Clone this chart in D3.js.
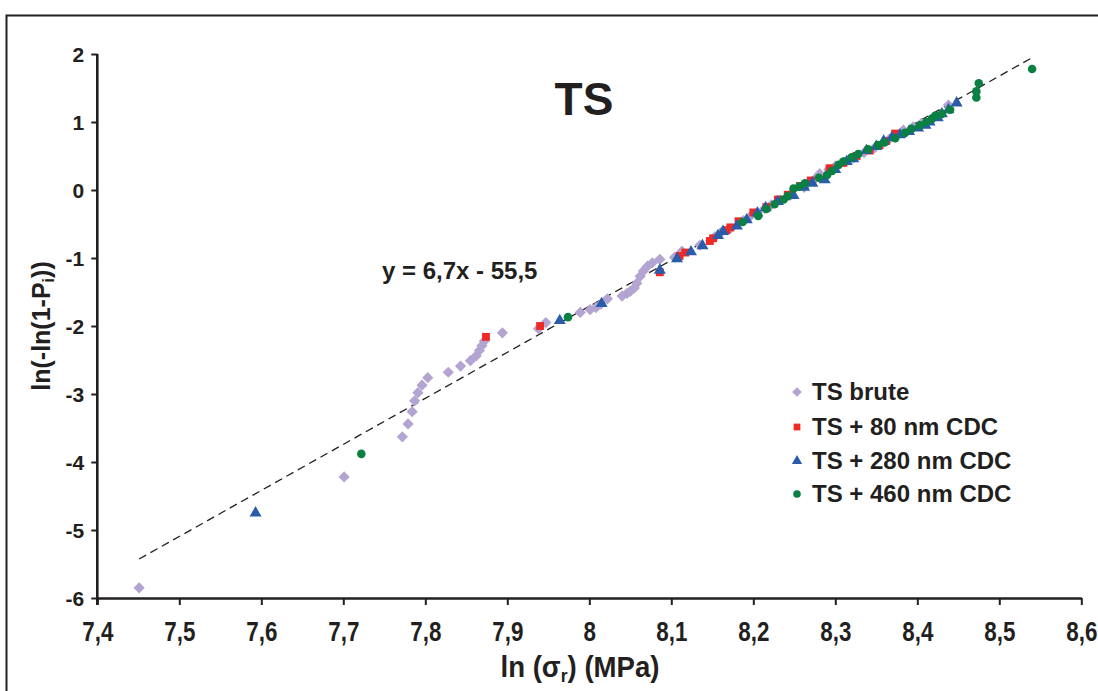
<!DOCTYPE html>
<html>
<head>
<meta charset="utf-8">
<script src="https://cdn.jsdelivr.net/npm/d3@7"></script>
<style>
  html, body { margin: 0; padding: 0; background: #fff; }
  svg { display: block; }
  text { font-family: "Liberation Sans", Arial, sans-serif; font-weight: bold; fill: #231f20; }
</style>
</head>
<body>
<svg id="chart" width="1098" height="691"></svg>
<script>
// ---------- data ----------
const xTicks = [7.4, 7.5, 7.6, 7.7, 7.8, 7.9, 8.0, 8.1, 8.2, 8.3, 8.4, 8.5, 8.6];
const xTickLabels = ["7,4", "7,5", "7,6", "7,7", "7,8", "7,9", "8", "8,1", "8,2", "8,3", "8,4", "8,5", "8,6"];
const yTicks = [-6, -5, -4, -3, -2, -1, 0, 1, 2];
const yTickLabels = ["-6", "-5", "-4", "-3", "-2", "-1", "0", "1", "2"];

const seriesNames = ["TS brute", "TS + 80 nm CDC", "TS + 280 nm CDC", "TS + 460 nm CDC"];

const bruteX = [7.451, 7.701, 7.772, 7.779, 7.784, 7.787, 7.791, 7.796, 7.803, 7.828, 7.843, 7.855, 7.862, 7.866, 7.869, 7.872, 7.894, 7.938, 7.947, 7.989, 8.001, 8.008, 8.014, 8.022, 8.040, 8.046, 8.050, 8.055, 8.058, 8.062, 8.066, 8.071, 8.077, 8.086, 8.104, 8.113, 8.135, 8.153, 8.160, 8.172, 8.188, 8.196, 8.205, 8.214, 8.222, 8.233, 8.245, 8.262, 8.275, 8.281, 8.292, 8.300, 8.311, 8.322, 8.335, 8.348, 8.366, 8.383, 8.395, 8.405, 8.420, 8.438];
const bruteY = [-5.85, -4.22, -3.63, -3.44, -3.26, -3.10, -2.98, -2.87, -2.76, -2.68, -2.59, -2.51, -2.44, -2.36, -2.29, -2.22, -2.10, -2.04, -1.95, -1.80, -1.76, -1.73, -1.68, -1.60, -1.56, -1.52, -1.49, -1.44, -1.37, -1.27, -1.19, -1.12, -1.07, -1.02, -0.99, -0.90, -0.81, -0.69, -0.63, -0.57, -0.45, -0.39, -0.33, -0.27, -0.22, -0.15, -0.08, 0.04, 0.16, 0.24, 0.30, 0.35, 0.41, 0.47, 0.55, 0.62, 0.75, 0.88, 0.93, 0.98, 1.07, 1.25];

const cdc80X = [7.874, 7.940, 8.086, 8.110, 8.117, 8.147, 8.151, 8.167, 8.172, 8.182, 8.200, 8.216, 8.230, 8.242, 8.257, 8.270, 8.293, 8.310, 8.326, 8.342, 8.354, 8.362, 8.373];
const cdc80Y = [-2.16, -2.00, -1.21, -0.97, -0.92, -0.75, -0.71, -0.59, -0.55, -0.46, -0.33, -0.25, -0.14, -0.07, 0.06, 0.14, 0.32, 0.40, 0.50, 0.58, 0.66, 0.72, 0.83];

const cdc280X = [7.593, 7.964, 8.015, 8.086, 8.107, 8.124, 8.138, 8.157, 8.163, 8.180, 8.192, 8.205, 8.215, 8.230, 8.249, 8.262, 8.272, 8.287, 8.300, 8.314, 8.322, 8.338, 8.350, 8.359, 8.369, 8.379, 8.390, 8.401, 8.410, 8.415, 8.425, 8.430, 8.438, 8.448];
const cdc280Y = [-4.75, -1.92, -1.67, -1.18, -1.01, -0.91, -0.82, -0.67, -0.61, -0.53, -0.44, -0.34, -0.26, -0.17, -0.08, 0.04, 0.10, 0.15, 0.30, 0.42, 0.46, 0.58, 0.64, 0.72, 0.77, 0.81, 0.86, 0.91, 0.95, 1.00, 1.06, 1.12, 1.18, 1.28];

const cdc460X = [7.722, 7.974, 8.187, 8.206, 8.216, 8.226, 8.237, 8.242, 8.249, 8.256, 8.263, 8.280, 8.290, 8.296, 8.304, 8.310, 8.320, 8.328, 8.340, 8.352, 8.360, 8.373, 8.385, 8.393, 8.403, 8.411, 8.418, 8.422, 8.430, 8.440, 8.472, 8.472, 8.475, 8.540];
const cdc460Y = [-3.88, -1.87, -0.47, -0.38, -0.28, -0.21, -0.14, -0.09, 0.02, 0.05, 0.10, 0.18, 0.22, 0.28, 0.37, 0.42, 0.48, 0.53, 0.60, 0.66, 0.70, 0.76, 0.84, 0.90, 0.95, 1.00, 1.05, 1.09, 1.12, 1.18, 1.36, 1.45, 1.57, 1.78];

// trend line (slope, intercept)
const trendCoef = [6.77, -55.87];
const trendLabel = "y = 6,7x - 55,5";
const chartTitle = "TS";

// ---------- drawing ----------
const svg = d3.select("#chart");
const ink = "#231f20";
const colors = ["#b3a4d2", "#ee2a27", "#2a5caa", "#0a8143"];
const symbols = [d3.symbolDiamond2, d3.symbolSquare, d3.symbolTriangle, d3.symbolCircle];
const sizes = [80, 62, 62, 58];

const x = d3.scaleLinear().domain([7.4, 8.6]).range([97.3, 1081.3]);
const y = d3.scaleLinear().domain([-6, 2]).range([598, 54]);

// frame
svg.append("rect").attr("x", 6.5).attr("y", 15.5).attr("width", 1200).attr("height", 800)
  .attr("fill", "none").attr("stroke", ink).attr("stroke-width", 2);

// axes
const xAxis = d3.axisBottom(x).tickValues(xTicks).tickSize(7).tickSizeOuter(0)
  .tickFormat((d, i) => xTickLabels[i]);
const gx = svg.append("g").attr("transform", `translate(0,${y(-6)})`).call(xAxis);
gx.select(".domain").attr("stroke", ink).attr("stroke-width", 2.6);
gx.selectAll(".tick line").attr("stroke", ink).attr("stroke-width", 2);
gx.selectAll(".tick text").attr("font-size", 28).attr("y", 0).attr("dy", 0).attr("x", 0)
  .attr("transform", `translate(0,43) scale(0.8,1)`).attr("fill", ink);

const yAxis = d3.axisLeft(y).tickValues(yTicks).tickSize(6).tickSizeOuter(0)
  .tickFormat((d, i) => yTickLabels[i]);
const gy = svg.append("g").attr("transform", `translate(${x(7.4)},0)`).call(yAxis);
gy.select(".domain").attr("stroke", ink).attr("stroke-width", 2.6)
  .attr("d", `M0,${y(2)}V${y(-6) + 7}`);
gy.selectAll(".tick line").attr("stroke", ink).attr("stroke-width", 2);
gy.selectAll(".tick text").attr("font-size", 21).attr("x", -13).attr("dy", "0.36em").attr("fill", ink);

// axis titles
const xt = svg.append("text").attr("text-anchor", "middle")
  .attr("transform", `translate(580,677) scale(0.92,1)`)
  .attr("font-size", 30);
xt.append("tspan").text("ln (σ");
xt.append("tspan").text("r").attr("font-size", 19).attr("dy", 5);
xt.append("tspan").text(") (MPa)").attr("dy", -5);

const yt = svg.append("text").attr("text-anchor", "middle")
  .attr("transform", `translate(50,${(y(2) + y(-6)) / 2}) rotate(-90)`)
  .attr("font-size", 25);
yt.append("tspan").text("ln(-ln(1-P");
yt.append("tspan").text("i").attr("font-size", 16).attr("dy", 4);
yt.append("tspan").text("))").attr("dy", -4);

// title
svg.append("text").attr("x", 584).attr("y", 115).attr("text-anchor", "middle")
  .attr("font-size", 46).text(chartTitle);

// trend line
const allX = [].concat(bruteX, cdc80X, cdc280X, cdc460X);
const tx = d3.extent(allX);
svg.append("line")
  .attr("x1", x(tx[0])).attr("y1", y(trendCoef[0] * tx[0] + trendCoef[1]))
  .attr("x2", x(tx[1])).attr("y2", y(trendCoef[0] * tx[1] + trendCoef[1]))
  .attr("stroke", ink).attr("stroke-width", 1.3).attr("stroke-dasharray", "8,5");

svg.append("text").attr("x", 382).attr("y", 279).attr("font-size", 24).text(trendLabel);

// points
const seriesX = [bruteX, cdc80X, cdc280X, cdc460X];
const seriesY = [bruteY, cdc80Y, cdc280Y, cdc460Y];
seriesX.forEach((xs, s) => {
  const pts = xs.map((v, i) => [v, seriesY[s][i]]);
  svg.append("g").selectAll("path").data(pts).join("path")
    .attr("transform", d => `translate(${x(d[0])},${y(d[1])})`)
    .attr("d", d3.symbol().type(symbols[s]).size(sizes[s]))
    .attr("fill", colors[s]);
});

// legend
const legendY = [392, 427, 461, 494];
const lg = svg.append("g");
seriesNames.forEach((name, i) => {
  lg.append("path").attr("transform", `translate(797,${legendY[i]})`)
    .attr("d", d3.symbol().type(symbols[i]).size(i === 0 ? 60 : 46)).attr("fill", colors[i]);
  lg.append("text").attr("x", 812).attr("y", legendY[i] + 8).attr("font-size", 24).text(name);
});
</script>
</body>
</html>
